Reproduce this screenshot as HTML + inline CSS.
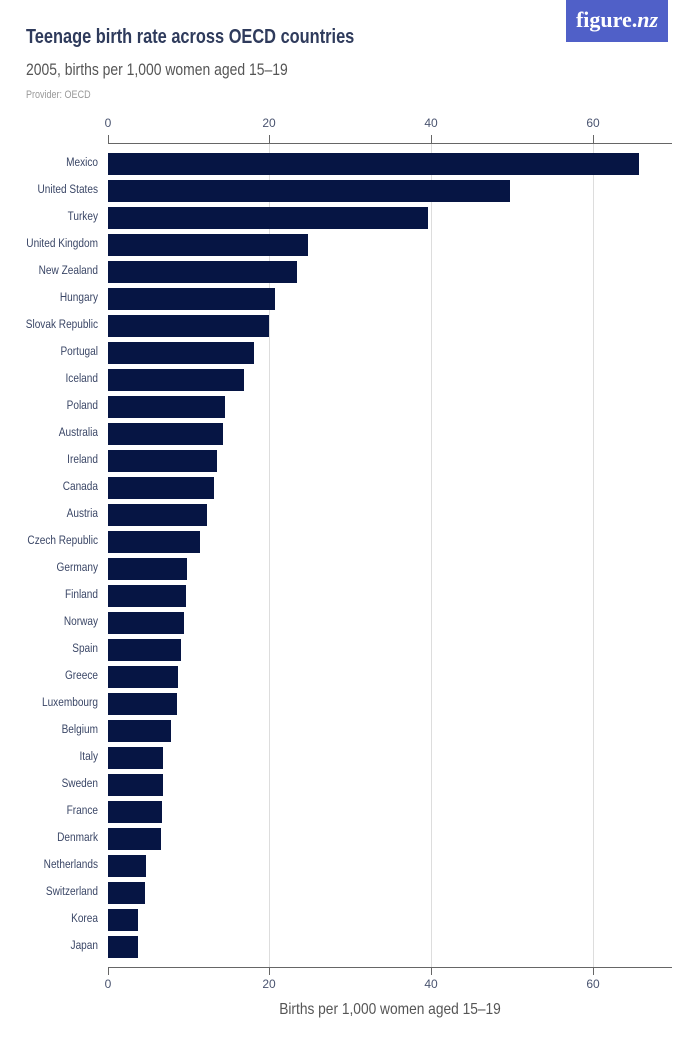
<!DOCTYPE html>
<html><head><meta charset="utf-8"><style>
body{margin:0;background:#fff;}
svg{display:block;font-family:"Liberation Sans",sans-serif;}
</style></head><body>
<svg width="700" height="1050" viewBox="0 0 700 1050" xmlns="http://www.w3.org/2000/svg">
<rect x="566" y="0" width="102" height="42" fill="#5060c8"/>
<text x="617" y="27" text-anchor="middle" font-family="Liberation Serif,serif" font-size="22" fill="#fff" font-weight="bold">figure.<tspan font-style="italic">nz</tspan></text>
<g transform="translate(26,0) scale(0.82,1)">
<text x="0" y="43" font-size="20" font-weight="bold" fill="#2f3b5c">Teenage birth rate across OECD countries</text>
<text x="0" y="75" font-size="17" fill="#555">2005, births per 1,000 women aged 15–19</text>
<text x="0" y="98" font-size="11" fill="#999">Provider: OECD</text>
</g>
<g stroke="#ddd" stroke-width="1">
<line x1="269.5" y1="143" x2="269.5" y2="967"/><line x1="431.5" y1="143" x2="431.5" y2="967"/><line x1="593.5" y1="143" x2="593.5" y2="967"/>
</g>
<g stroke="#666" stroke-width="1">
<line x1="108" y1="143.5" x2="672" y2="143.5"/><line x1="108" y1="967.5" x2="672" y2="967.5"/>
<line x1="108.5" y1="135" x2="108.5" y2="143"/><line x1="269.5" y1="135" x2="269.5" y2="143"/><line x1="431.5" y1="135" x2="431.5" y2="143"/><line x1="593.5" y1="135" x2="593.5" y2="143"/>
<line x1="108.5" y1="967" x2="108.5" y2="975"/><line x1="269.5" y1="967" x2="269.5" y2="975"/><line x1="431.5" y1="967" x2="431.5" y2="975"/><line x1="593.5" y1="967" x2="593.5" y2="975"/>
</g>
<g font-size="12" fill="#4a5470" text-anchor="middle">
<text x="108" y="127">0</text><text x="269" y="127">20</text><text x="431" y="127">40</text><text x="593" y="127">60</text>
<text x="108" y="988">0</text><text x="269" y="988">20</text><text x="431" y="988">40</text><text x="593" y="988">60</text>
</g>
<g transform="translate(390,0) scale(0.86,1)">
<text x="0" y="1014" font-size="16" fill="#555" text-anchor="middle">Births per 1,000 women aged 15–19</text>
</g>
<g fill="#061544">
<rect x="108" y="153" width="531" height="22"/>
<rect x="108" y="180" width="402" height="22"/>
<rect x="108" y="207" width="320" height="22"/>
<rect x="108" y="234" width="200" height="22"/>
<rect x="108" y="261" width="189" height="22"/>
<rect x="108" y="288" width="167" height="22"/>
<rect x="108" y="315" width="161" height="22"/>
<rect x="108" y="342" width="146" height="22"/>
<rect x="108" y="369" width="136" height="22"/>
<rect x="108" y="396" width="117" height="22"/>
<rect x="108" y="423" width="115" height="22"/>
<rect x="108" y="450" width="109" height="22"/>
<rect x="108" y="477" width="106" height="22"/>
<rect x="108" y="504" width="99" height="22"/>
<rect x="108" y="531" width="92" height="22"/>
<rect x="108" y="558" width="79" height="22"/>
<rect x="108" y="585" width="78" height="22"/>
<rect x="108" y="612" width="76" height="22"/>
<rect x="108" y="639" width="73" height="22"/>
<rect x="108" y="666" width="70" height="22"/>
<rect x="108" y="693" width="69" height="22"/>
<rect x="108" y="720" width="63" height="22"/>
<rect x="108" y="747" width="55" height="22"/>
<rect x="108" y="774" width="55" height="22"/>
<rect x="108" y="801" width="54" height="22"/>
<rect x="108" y="828" width="53" height="22"/>
<rect x="108" y="855" width="38" height="22"/>
<rect x="108" y="882" width="37" height="22"/>
<rect x="108" y="909" width="30" height="22"/>
<rect x="108" y="936" width="30" height="22"/>
</g>
<g font-size="12" fill="#3a4666" text-anchor="end" transform="translate(98,0) scale(0.84,1)">
<text x="0" y="166">Mexico</text>
<text x="0" y="193">United States</text>
<text x="0" y="220">Turkey</text>
<text x="0" y="247">United Kingdom</text>
<text x="0" y="274">New Zealand</text>
<text x="0" y="301">Hungary</text>
<text x="0" y="328">Slovak Republic</text>
<text x="0" y="355">Portugal</text>
<text x="0" y="382">Iceland</text>
<text x="0" y="409">Poland</text>
<text x="0" y="436">Australia</text>
<text x="0" y="463">Ireland</text>
<text x="0" y="490">Canada</text>
<text x="0" y="517">Austria</text>
<text x="0" y="544">Czech Republic</text>
<text x="0" y="571">Germany</text>
<text x="0" y="598">Finland</text>
<text x="0" y="625">Norway</text>
<text x="0" y="652">Spain</text>
<text x="0" y="679">Greece</text>
<text x="0" y="706">Luxembourg</text>
<text x="0" y="733">Belgium</text>
<text x="0" y="760">Italy</text>
<text x="0" y="787">Sweden</text>
<text x="0" y="814">France</text>
<text x="0" y="841">Denmark</text>
<text x="0" y="868">Netherlands</text>
<text x="0" y="895">Switzerland</text>
<text x="0" y="922">Korea</text>
<text x="0" y="949">Japan</text>
</g>
</svg>
</body></html>
